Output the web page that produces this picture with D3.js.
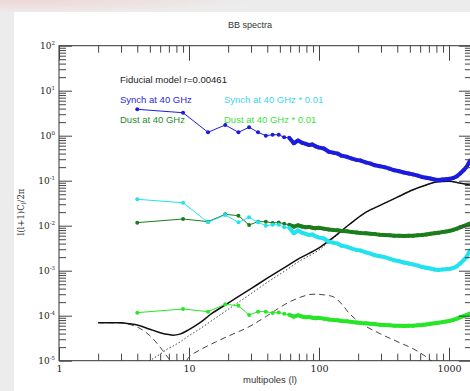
<!DOCTYPE html>
<html>
<head>
<meta charset="utf-8">
<script src="https://cdn.jsdelivr.net/npm/d3@7"></script>
<style>
  body { margin: 0; background: #ececec; }
  svg { display: block; }
</style>
</head>
<body>
<svg id="chart" width="470" height="391"></svg>
<script>
// binned multipoles of the foreground spectra
const ells = [4, 9, 14, 19, 24, 29, 34, 39, 44, 49, 54, 59, 64, 69, 74, 79, 84, 89, 94, 99,
  109, 119, 129, 139, 149, 164, 179, 194, 209, 229, 249, 269, 294, 319, 349, 379, 414, 449,
  489, 529, 574, 619, 669, 719, 774, 829, 889, 949, 1014, 1079, 1149, 1219, 1294, 1369, 1449];

const synch = [3.86, 3.24, 1.19, 1.73, 1.19, 1.54, 1.19, 1.00, 1.05, 1.05, 0.92, 0.90, 0.68, 0.78, 0.70, 0.66, 0.62, 0.64, 0.58, 0.55,
  0.52, 0.44, 0.42, 0.40, 0.36, 0.34, 0.31, 0.29, 0.28, 0.255, 0.24, 0.22, 0.21, 0.20, 0.185, 0.17, 0.162, 0.152,
  0.145, 0.138, 0.13, 0.121, 0.116, 0.112, 0.106, 0.104, 0.106, 0.108, 0.11, 0.115, 0.125, 0.145, 0.17, 0.205, 0.28];

const synch01 = [0.0386, 0.0324, 0.0119, 0.0173, 0.0119, 0.0154, 0.0119, 0.0100, 0.0105, 0.0105, 0.0092, 0.0090, 0.0068, 0.0078, 0.0070, 0.0066, 0.0062, 0.0064, 0.0058, 0.0055,
  0.0052, 0.0044, 0.0042, 0.0040, 0.0036, 0.0034, 0.0031, 0.0029, 0.0028, 0.00255, 0.0024, 0.0022, 0.0021, 0.0020, 0.00185, 0.0017, 0.00162, 0.00152,
  0.00145, 0.00138, 0.0013, 0.00121, 0.00116, 0.00112, 0.00106, 0.00104, 0.00106, 0.00108, 0.0011, 0.00115, 0.00125, 0.00145, 0.0017, 0.00205, 0.0028];

const dust = [0.0117, 0.0141, 0.0123, 0.0179, 0.0167, 0.0104, 0.0123, 0.0123, 0.0115, 0.0118, 0.0110, 0.0105, 0.0095, 0.0102, 0.0096, 0.0092, 0.0094, 0.0090, 0.0088, 0.0090,
  0.0086, 0.0082, 0.0080, 0.0079, 0.0076, 0.0075, 0.0072, 0.0071, 0.0069, 0.0068, 0.0066, 0.0065, 0.0063, 0.0062, 0.0061, 0.0060, 0.0060, 0.0059,
  0.0060, 0.0060, 0.0061, 0.0062, 0.0064, 0.0066, 0.0068, 0.0070, 0.0072, 0.0074, 0.0077, 0.0081, 0.0086, 0.0092, 0.0098, 0.0104, 0.0112];

const dust01 = [1.17e-4, 1.41e-4, 1.23e-4, 1.79e-4, 1.67e-4, 1.04e-4, 1.23e-4, 1.23e-4, 1.15e-4, 1.18e-4, 1.10e-4, 1.05e-4, 0.95e-4, 1.02e-4, 0.96e-4, 0.92e-4, 0.94e-4, 0.90e-4, 0.88e-4, 0.90e-4,
  0.86e-4, 0.82e-4, 0.80e-4, 0.79e-4, 0.76e-4, 0.75e-4, 0.72e-4, 0.71e-4, 0.69e-4, 0.68e-4, 0.66e-4, 0.65e-4, 0.63e-4, 0.62e-4, 0.61e-4, 0.60e-4, 0.60e-4, 0.59e-4,
  0.60e-4, 0.60e-4, 0.61e-4, 0.62e-4, 0.64e-4, 0.66e-4, 0.68e-4, 0.70e-4, 0.72e-4, 0.74e-4, 0.77e-4, 0.81e-4, 0.86e-4, 0.92e-4, 0.98e-4, 1.04e-4, 1.12e-4];

// fiducial model curves
const modelEll = [2, 3, 3.5, 4, 5, 6, 7, 7.5, 8.5, 10, 12, 15, 20, 30, 40, 55, 70, 100, 130, 170, 230, 300, 400, 530, 650, 800, 1000, 1200, 1500];
const total = [7.0e-5, 7.0e-5, 6.6e-5, 6.2e-5, 5.0e-5, 4.2e-5, 3.8e-5, 3.7e-5, 3.9e-5, 4.9e-5, 6.8e-5, 1.12e-4, 1.9e-4, 4.0e-4, 6.8e-4, 1.2e-3, 1.85e-3, 3.2e-3, 5.6e-3, 1.05e-2, 2.0e-2, 2.9e-2, 4.3e-2, 6.3e-2, 7.8e-2, 9.4e-2, 9.7e-2, 8.9e-2, 7.9e-2];
const lensing = [2.0e-6, 4.0e-6, 5.2e-6, 6.5e-6, 1.0e-5, 1.4e-5, 1.9e-5, 2.1e-5, 2.6e-5, 3.6e-5, 5.0e-5, 7.8e-5, 1.38e-4, 3.1e-4, 5.5e-4, 1.0e-3, 1.6e-3, 2.9e-3, 5.35e-3, 1.04e-2, 2.0e-2, 2.9e-2, 4.3e-2, 6.3e-2, 7.8e-2, 9.4e-2, 9.7e-2, 8.9e-2, 7.9e-2];
const tensorEll = [2, 3, 3.5, 4, 5, 6, 7, 8, 9, 10, 12, 16, 20, 30, 40, 55, 70, 90, 110, 130, 150, 170, 200, 280, 420, 500, 600, 700, 800];
const tensor = [7.0e-5, 6.9e-5, 6.4e-5, 5.6e-5, 3.6e-5, 2.0e-5, 1.1e-5, 7e-6, 8e-6, 1.2e-5, 1.7e-5, 2.6e-5, 3.5e-5, 6.0e-5, 1.0e-4, 1.8e-4, 2.5e-4, 3.0e-4, 2.9e-4, 2.6e-4, 1.8e-4, 1.15e-4, 7.5e-5, 4.3e-5, 2.5e-5, 2.0e-5, 1.5e-5, 1.1e-5, 8e-6];

const xTicks = [1, 10, 100, 1000];
const yExps = [2, 1, 0, -1, -2, -3, -4, -5];

const svg = d3.select('#chart');

// paper / photo background
const defs = svg.append('defs');
const pink = defs.append('radialGradient').attr('id', 'pink').attr('cx', 0.1).attr('cy', 0).attr('r', 0.9);
pink.append('stop').attr('offset', 0).attr('stop-color', '#efd6d6');
pink.append('stop').attr('offset', 1).attr('stop-color', '#ececec');
svg.append('rect').attr('width', 470).attr('height', 391).attr('fill', '#ececec');
svg.append('rect').attr('width', 260).attr('height', 14).attr('fill', 'url(#pink)');
svg.append('rect').attr('x', 14).attr('y', 12).attr('width', 456).attr('height', 379).attr('fill', '#fff');

const pLeft = 59, pTop = 45.7, pBottom = 360.7;
const x = d3.scaleLog().domain([1, 1500]).range([pLeft, pLeft + 130 * Math.log10(1500)]);
const y = d3.scaleLog().domain([1e-5, 100]).range([pBottom, pTop]);
const pRight = x(1500);

defs.append('clipPath').attr('id', 'plot').append('rect')
  .attr('x', pLeft).attr('y', pTop).attr('width', pRight - pLeft).attr('height', pBottom - pTop);

const plot = svg.append('g').attr('clip-path', 'url(#plot)');

const line = d3.line().x(d => x(d[0])).y(d => y(d[1]));
const curve = d3.line().x(d => x(d[0])).y(d => y(d[1])).curve(d3.curveMonotoneX);

// model curves
plot.append('path').datum(d3.zip(tensorEll, tensor)).attr('d', curve)
  .attr('fill', 'none').attr('stroke', '#444').attr('stroke-width', 1).attr('stroke-dasharray', '6,4');
plot.append('path').datum(d3.zip(modelEll, lensing)).attr('d', curve)
  .attr('fill', 'none').attr('stroke', '#444').attr('stroke-width', 1).attr('stroke-dasharray', '1.5,2');
plot.append('path').datum(d3.zip(modelEll, total)).attr('d', curve)
  .attr('fill', 'none').attr('stroke', '#111').attr('stroke-width', 1.5);

function drawSeries(vals, color) {
  const pts = d3.zip(ells, vals);
  plot.append('path').datum(pts).attr('d', line)
    .attr('fill', 'none').attr('stroke', color).attr('stroke-width', 1);
  // the densely binned part forms a thick noisy band
  plot.append('path').datum(pts.filter(d => d[0] >= 59)).attr('d', line)
    .attr('fill', 'none').attr('stroke', color).attr('stroke-width', 4).attr('stroke-linejoin', 'round');
  plot.selectAll(null).data(pts).enter().append('circle')
    .attr('cx', d => x(d[0])).attr('cy', d => y(d[1])).attr('r', 2).attr('fill', color);
}
drawSeries(dust, '#1b7d1b');
drawSeries(synch01, '#22e2ee');
drawSeries(dust01, '#26e626');
drawSeries(synch, '#1c1cde');

// frame and axes
svg.append('rect').attr('x', pLeft).attr('y', pTop).attr('width', pRight - pLeft).attr('height', pBottom - pTop)
  .attr('fill', 'none').attr('stroke', '#333').attr('stroke-width', 1);

const yMinor = y.ticks().filter(v => Math.abs(Math.log10(v) % 1) > 1e-6);
const xMinor = x.ticks().filter(v => Math.abs(Math.log10(v) % 1) > 1e-6);
const yMajor = yExps.map(e => Math.pow(10, e));

function styleAxis(g) {
  g.select('.domain').remove();
  g.selectAll('line').attr('stroke', '#444');
}

svg.append('g').attr('transform', `translate(${pLeft},0)`)
  .call(d3.axisLeft(y).tickValues(yMinor).tickSize(-7).tickFormat('')).call(styleAxis);
svg.append('g').attr('transform', `translate(${pRight},0)`)
  .call(d3.axisRight(y).tickValues(yMinor).tickSize(-7).tickFormat('')).call(styleAxis);
svg.append('g').attr('transform', `translate(${pRight},0)`)
  .call(d3.axisRight(y).tickValues(yMajor).tickSize(-13).tickFormat('')).call(styleAxis);
const yAx = svg.append('g').attr('transform', `translate(${pLeft},0)`)
  .call(d3.axisLeft(y).tickValues(yMajor).tickSize(-13).tickPadding(4).tickFormat(''))
  .call(styleAxis);
yAx.selectAll('.tick text').each(function (d) {
  const t = d3.select(this).attr('font-family', '"DejaVu Serif", serif').attr('fill', '#222');
  t.append('tspan').attr('font-size', 9).text('10');
  t.append('tspan').attr('font-size', 5.5).attr('dy', -4).text(String(Math.round(Math.log10(d))));
});

svg.append('g').attr('transform', `translate(0,${pBottom})`)
  .call(d3.axisBottom(x).tickValues(xMinor).tickSize(-7).tickFormat('')).call(styleAxis);
svg.append('g').attr('transform', `translate(0,${pTop})`)
  .call(d3.axisTop(x).tickValues(xMinor).tickSize(-7).tickFormat('')).call(styleAxis);
svg.append('g').attr('transform', `translate(0,${pTop})`)
  .call(d3.axisTop(x).tickValues(xTicks).tickSize(-15).tickFormat('')).call(styleAxis);
svg.append('g').attr('transform', `translate(0,${pBottom})`)
  .call(d3.axisBottom(x).tickValues(xTicks).tickSize(-13).tickPadding(5).tickFormat(d3.format('d')))
  .call(styleAxis)
  .call(g => g.selectAll('text').attr('font-family', '"DejaVu Serif", serif').attr('font-size', 9.5).attr('fill', '#222'));

// titles
svg.append('text').attr('x', 250).attr('y', 28).attr('text-anchor', 'middle')
  .attr('font-family', '"Liberation Sans", Arial, sans-serif').attr('font-size', 9).attr('fill', '#333').text('BB spectra');
svg.append('text').attr('x', 270).attr('y', 383).attr('text-anchor', 'middle')
  .attr('font-family', '"Liberation Sans", Arial, sans-serif').attr('font-size', 9.5).attr('fill', '#333').text('multipoles (l)');
const yl = svg.append('text').attr('transform', 'translate(24,212) rotate(-90)').attr('text-anchor', 'middle')
  .attr('font-family', '"DejaVu Serif", serif').attr('font-size', 8.5).attr('fill', '#333');
yl.append('tspan').text('l(l+1)C');
yl.append('tspan').attr('font-size', 6).attr('dy', 2).text('l');
yl.append('tspan').attr('dy', -2).text('/2π');

// legend texts
const legend = [
  { t: 'Fiducial model r=0.00461', x: 120, y: 83, c: '#222' },
  { t: 'Synch at 40 GHz', x: 120, y: 103, c: '#2b2bd8' },
  { t: 'Dust at 40 GHz', x: 120, y: 123, c: '#2a8a2a' },
  { t: 'Synch at 40 GHz * 0.01', x: 224, y: 103, c: '#3ad6f0' },
  { t: 'Dust at 40 GHz * 0.01', x: 224, y: 123, c: '#3ee03e' }
];
svg.selectAll(null).data(legend).enter().append('text')
  .attr('x', d => d.x).attr('y', d => d.y).attr('fill', d => d.c)
  .attr('font-family', '"Liberation Sans", Arial, sans-serif').attr('font-size', 9.5)
  .text(d => d.t);
</script>
</body>
</html>
